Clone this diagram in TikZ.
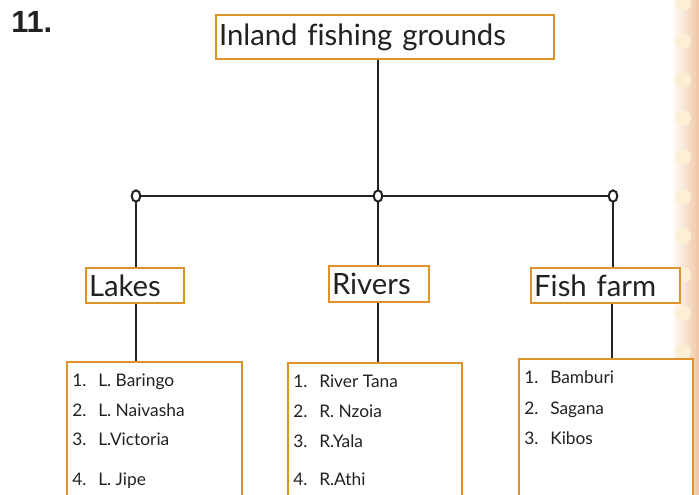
\documentclass[tikz,border=0pt]{standalone}
\usepackage{fontspec}
\usetikzlibrary{shapes.geometric}
\setmainfont{Lato}[Ligatures={NoCommon}]
\newfontfamily\numfont{Liberation Sans}
\definecolor{boxorange}{HTML}{E0922A}
\definecolor{peach}{HTML}{F0C6A6}
\definecolor{cream}{HTML}{FBEFD6}
\definecolor{ink}{HTML}{222222}
\begin{document}
\begin{tikzpicture}[x=0.75pt,y=-0.75pt,
  hbox/.style={draw=boxorange, line width=1.6pt, fill=white, inner xsep=2pt, inner ysep=0pt,
    align=left, font=\fontsize{22}{25}\selectfont, text=ink},
  lbox/.style={draw=boxorange, line width=1.6pt, fill=white, anchor=north west, inner sep=0pt},
  item/.style={anchor=base west, inner sep=0pt, font=\fontsize{13}{15}\selectfont, text=ink},
  conn/.style={draw=ink, line width=1.5pt},
  dot/.style={draw=ink, line width=1.5pt, fill=white, ellipse, inner sep=0pt, minimum width=6.5pt, minimum height=8.5pt}]
\useasboundingbox (0,0) rectangle (699,494);
\clip (0,0) rectangle (699,494);
% right edge decoration
\fill[left color=white, right color=peach] (671,0) rectangle (699,494);
\foreach \yy in {3,41,80,118,157,197,236,275,313,352,391,430,469}
  \fill[cream] (683,\yy) circle (8);
% number
\node[anchor=base west, inner sep=0pt, font=\numfont\fontsize{23}{26}\selectfont, text=ink] (num) at (11,32) {\textbf{11.}};
% heading boxes
\node[hbox, minimum width=253.5pt, minimum height=33pt, text width=249pt] (top) at (385,37) {Inland fishing grounds};
\node[hbox, minimum width=73.5pt, minimum height=26.25pt, text width=69pt] (lakes) at (135,285.5) {Lakes};
\node[hbox, minimum width=75pt, minimum height=27pt, text width=70.5pt] (rivers) at (379,284) {Rivers};
\node[hbox, minimum width=111.75pt, minimum height=26.25pt, text width=107pt] (fish) at (605.5,285.5) {Fish farm};
% junctions
\coordinate (jl) at (136,196);
\coordinate (jm) at (378,196);
\coordinate (jr) at (613,196);
\draw[conn] (jl) -- (jr);
\draw[conn] (top.south -| jm) -- (jm);
\draw[conn] (jl) -- (lakes.north -| jl);
\draw[conn] (jm) -- (rivers.north -| jm);
\draw[conn] (jr) -- (fish.north -| jr);
% list boxes
\node[lbox, minimum width=131.25pt, minimum height=120pt] (llist) at (66,361) {};
\node[lbox, minimum width=130.5pt, minimum height=120pt] (rlist) at (287,362) {};
\node[lbox, minimum width=130.5pt, minimum height=120pt] (flist) at (518,358) {};
\draw[conn] (lakes.south -| jl) -- (llist.north -| jl);
\draw[conn] (rivers.south -| jm) -- (rlist.north -| jm);
\draw[conn] (fish.south -| 612,0) -- (flist.north -| 612,0);
\node[dot] (dl) at (jl) {};
\node[dot] (dm) at (jm) {};
\node[dot] (dr) at (jr) {};
% lake items
\node[item] (ln1) at (72,386) {1.}; \node[item] (lt1) at (98,386) {L. Baringo};
\node[item] (ln2) at (72,416) {2.}; \node[item] (lt2) at (98,416) {L. Naivasha};
\node[item] (ln3) at (72,445) {3.}; \node[item] (lt3) at (98,445) {L.Victoria};
\node[item] (ln4) at (72,485) {4.}; \node[item] (lt4) at (98,485) {L. Jipe};
% river items
\node[item] (rn1) at (293,387) {1.}; \node[item] (rt1) at (319,387) {River Tana};
\node[item] (rn2) at (293,417) {2.}; \node[item] (rt2) at (319,417) {R. Nzoia};
\node[item] (rn3) at (293,447) {3.}; \node[item] (rt3) at (319,447) {R.Yala};
\node[item] (rn4) at (293,485) {4.}; \node[item] (rt4) at (319,485) {R.Athi};
% fish farm items
\node[item] (fn1) at (524,383) {1.}; \node[item] (ft1) at (550,383) {Bamburi};
\node[item] (fn2) at (524,414) {2.}; \node[item] (ft2) at (550,414) {Sagana};
\node[item] (fn3) at (524,444) {3.}; \node[item] (ft3) at (550,444) {Kibos};
\end{tikzpicture}
\end{document}
